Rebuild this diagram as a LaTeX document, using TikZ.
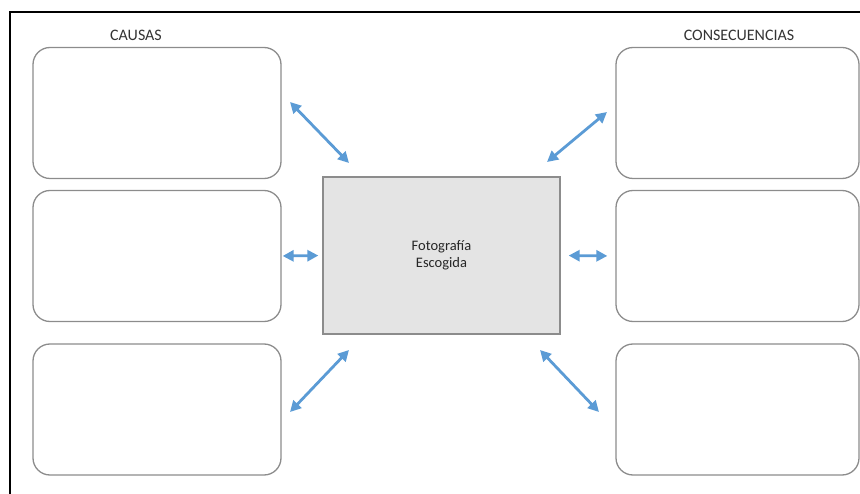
\documentclass[tikz,border=0pt]{standalone}
\usepackage{fontspec}
\setmainfont{Carlito}
\usepackage{xcolor}
\usepackage{tikz}
\usetikzlibrary{arrows.meta}

\definecolor{azulflecha}{HTML}{5B9BD5}
\definecolor{grisborde}{HTML}{8C8C8C}
\definecolor{grisfondo}{HTML}{E4E4E4}

\begin{document}
\begin{tikzpicture}[x=1pt, y=-1pt,
    caja/.style={draw=grisborde, line width=1.3pt, rounded corners=17pt, minimum width=248pt, minimum height=131pt, inner sep=0pt},
    flecha/.style={{Triangle[length=11pt,width=11pt]}-{Triangle[length=11pt,width=11pt]}, azulflecha, line width=2.8pt},
    titulo/.style={text=black!80, font=\fontsize{16}{18}\selectfont}]
    \useasboundingbox (0,0) rectangle (860,494);

    % Frame
    \draw[line width=2pt] (10,494) -- (10,12) -- (860,12);

    % Titles
    \node[titulo] (causas) at (136,35) {CAUSAS};
    \node[titulo] (consecuencias) at (739,35) {CONSECUENCIAS};

    % Center photo
    \node[draw=grisborde, fill=grisfondo, line width=1.3pt, minimum width=237pt, minimum height=157pt, align=center, text=black!85, font=\fontsize{14.5}{17}\selectfont] (foto) at (441.5,255.5) {Fotografía\\Escogida};

    % Causes
    \node[caja] (c1) at (157,113) {};
    \node[caja] (c2) at (157,256) {};
    \node[caja] (c3) at (157,409.5) {};

    % Consequences
    \node[caja, minimum width=243pt] (d1) at (737.5,113) {};
    \node[caja, minimum width=243pt] (d2) at (737.5,256) {};
    \node[caja, minimum width=243pt] (d3) at (737.5,409.5) {};

    % Arrow ends
    \coordinate (a1) at (290,102);
    \coordinate (b1) at (349,163);
    \coordinate (a3) at (290,412);
    \coordinate (b3) at (349,350);
    \coordinate (a4) at (547,162);
    \coordinate (b4) at (607,112);
    \coordinate (a6) at (540,350);
    \coordinate (b6) at (599,412);

    % Arrows
    \draw[flecha] (a1) -- (b1);
    \draw[flecha, shorten <=1pt, shorten >=4pt] (c2.east) -- (foto.west);
    \draw[flecha] (a3) -- (b3);
    \draw[flecha] (a4) -- (b4);
    \draw[flecha, shorten <=8pt, shorten >=8pt] (foto.east) -- (d2.west);
    \draw[flecha] (a6) -- (b6);
\end{tikzpicture}
\end{document}
